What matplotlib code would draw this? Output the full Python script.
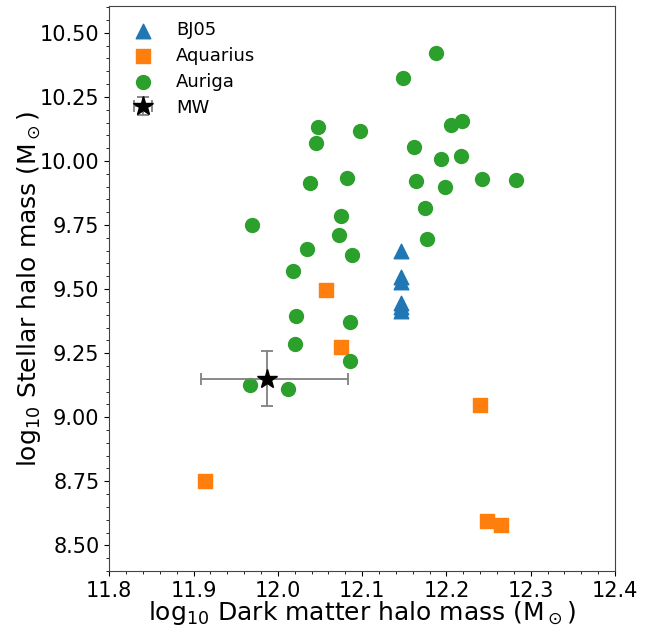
import matplotlib

matplotlib.use("Agg")
import matplotlib.pyplot as plt  # noqa: E402
from matplotlib.ticker import MultipleLocator  # noqa: E402

# BJ05: all halos share one dark matter mass
bj05_dm = [12.146, 12.146, 12.146, 12.146, 12.146, 12.146]
bj05_star = [9.647, 9.548, 9.528, 9.447, 9.431, 9.415]

aquarius_dm = [12.057, 12.075, 11.914, 12.240, 12.248, 12.265]
aquarius_star = [9.498, 9.274, 8.750, 9.048, 8.596, 8.580]

auriga_dm = [12.048, 12.097, 12.045, 12.0385, 12.082, 11.969, 12.075, 12.073,
             12.034, 12.088, 12.018, 12.188, 12.148, 12.219, 12.205, 12.161,
             12.217, 12.194, 12.164, 12.198, 12.242, 12.282, 12.174, 12.177,
             12.021, 12.086, 12.020, 12.086, 11.967, 12.012]
auriga_star = [10.133, 10.116, 10.069, 9.916, 9.934, 9.750, 9.787, 9.713,
               9.656, 9.635, 9.571, 10.420, 10.325, 10.155, 10.141, 10.055,
               10.021, 10.007, 9.922, 9.898, 9.930, 9.925, 9.817, 9.695,
               9.396, 9.371, 9.287, 9.220, 9.127, 9.111]

mw_dm = [11.987]
mw_star = [9.150]
mw_dm_err = [[0.078], [0.096]]   # lower, upper
mw_star_err = [0.108]

fig = plt.figure(figsize=(6.51, 6.28), dpi=100)
ax = fig.add_axes([0.1679, 0.0908, 0.7768, 0.8997])

ax.scatter(bj05_dm, bj05_star, marker="^", s=110, color="tab:blue", label="BJ05")
ax.scatter(aquarius_dm, aquarius_star, marker="s", s=90, color="tab:orange", label="Aquarius")
ax.scatter(auriga_dm, auriga_star, marker="o", s=100, color="tab:green", label="Auriga")
ax.errorbar(mw_dm, mw_star, xerr=mw_dm_err, yerr=mw_star_err, fmt="*", color="k",
            ms=15, ecolor="grey", elinewidth=1.3, capsize=4, capthick=1.3, label="MW")

ax.set_xlim(11.8, 12.4)
ax.set_ylim(8.40, 10.605)
ax.xaxis.set_major_locator(MultipleLocator(0.1))
ax.xaxis.set_minor_locator(MultipleLocator(0.02))
ax.yaxis.set_major_locator(MultipleLocator(0.25))
ax.yaxis.set_minor_locator(MultipleLocator(0.05))
ax.tick_params(which="major", labelsize=15)
for spine in ax.spines.values():
    spine.set_color("#444444")

ax.set_xlabel(r"log$_{10}$ Dark matter halo mass (M$_\odot$)", fontsize=18, labelpad=-1)
ax.set_ylabel(r"log$_{10}$ Stellar halo mass (M$_\odot$)", fontsize=18, labelpad=-2.5)

ax.legend(loc="upper left", frameon=False, fontsize=13, handletextpad=0.85,
          labelspacing=0.43, borderaxespad=0.45)

fig.savefig("out.png", dpi=100)
